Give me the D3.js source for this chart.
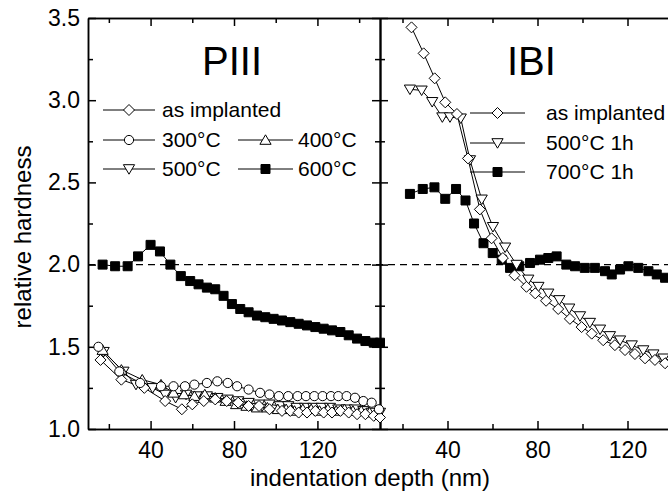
<!DOCTYPE html>
<html>
<head>
<meta charset="utf-8">
<script src="https://d3js.org/d3.v7.min.js"></script>
<style>
  body { margin: 0; background: white; }
  svg { font-family: "Liberation Sans", Arial, sans-serif; }
</style>
</head>
<body>
<script>
// ---- data ----
// PIII panel
const piiiAsImpX = [16, 26, 37, 47, 55, 60, 65.5, 71, 76.5, 82, 87, 92, 97, 103, 107, 111, 115, 119, 123, 127, 131, 135, 139, 143, 147, 150]
const piiiAsImpY = [1.42, 1.30, 1.25, 1.17, 1.12, 1.15, 1.17, 1.18, 1.17, 1.16, 1.14, 1.14, 1.12, 1.11, 1.11, 1.10, 1.10, 1.11, 1.10, 1.10, 1.11, 1.10, 1.09, 1.09, 1.08, 1.07]
const piii300X = [15, 25, 35, 45, 51, 56.5, 61, 67, 72, 77, 81.5, 87, 92.5, 97, 101.5, 106, 110.5, 114.5, 118.5, 122.5, 126.5, 130, 134, 138, 142, 146, 149.5]
const piii300Y = [1.50, 1.35, 1.28, 1.26, 1.26, 1.26, 1.27, 1.28, 1.29, 1.28, 1.26, 1.24, 1.22, 1.21, 1.20, 1.20, 1.20, 1.20, 1.20, 1.20, 1.20, 1.20, 1.20, 1.19, 1.17, 1.16, 1.12]
const piii400X = [17, 26, 36, 45, 51, 56, 61, 66, 71, 76, 81, 86, 91, 96, 101, 105, 109, 113, 117, 121, 125, 129, 133, 137, 141, 145, 149]
const piii400Y = [1.48, 1.36, 1.30, 1.27, 1.22, 1.21, 1.20, 1.21, 1.19, 1.17, 1.15, 1.14, 1.13, 1.13, 1.12, 1.12, 1.11, 1.12, 1.12, 1.11, 1.12, 1.11, 1.12, 1.11, 1.11, 1.10, 1.09]
const piii500X = [17.5, 27, 33, 41, 47, 52, 57, 62, 67, 72, 77, 82, 87, 92, 97, 102, 106, 110, 114, 118, 122, 126, 130, 134, 138, 142, 146, 150]
const piii500Y = [1.47, 1.35, 1.27, 1.25, 1.21, 1.19, 1.21, 1.20, 1.20, 1.19, 1.18, 1.17, 1.16, 1.15, 1.15, 1.14, 1.14, 1.13, 1.13, 1.13, 1.13, 1.13, 1.12, 1.12, 1.12, 1.11, 1.10, 1.10]
const piii600X = [17, 23, 29, 34, 40, 44.5, 49.5, 54.5, 59, 63, 67, 71, 75, 79, 83, 87, 91, 95, 99, 103, 107, 111, 115, 119, 123, 127, 131, 135, 139, 143, 147, 150]
const piii600Y = [2.00, 1.99, 1.99, 2.05, 2.12, 2.08, 2.00, 1.93, 1.90, 1.88, 1.86, 1.85, 1.81, 1.76, 1.73, 1.71, 1.69, 1.68, 1.67, 1.66, 1.65, 1.64, 1.63, 1.62, 1.61, 1.60, 1.59, 1.57, 1.55, 1.535, 1.525, 1.525]

// IBI panel
const ibiAsImpX = [24, 29.4, 34.3, 39, 44.2, 49.1, 54.4, 59.6, 64.6, 69.8, 75.1, 79, 83.8, 89.2, 94.4, 99.6, 104.1, 109.2, 114.4, 118.9, 123.3, 127.8, 132.2, 136.7, 141, 145.5, 150]
const ibiAsImpY = [3.443, 3.285, 3.133, 2.987, 2.916, 2.646, 2.336, 2.16, 2.04, 1.935, 1.865, 1.825, 1.78, 1.73, 1.67, 1.62, 1.58, 1.54, 1.51, 1.48, 1.456, 1.43, 1.42, 1.40, 1.38, 1.37, 1.36]
const ibi500X = [23.3, 28.5, 33.2, 37.7, 41.1, 45.9, 50, 55.2, 60.2, 65.6, 70.7, 75.9, 80.4, 84.8, 89.7, 94.1, 98.9, 103.3, 107.8, 112.2, 116.7, 121.9, 127, 131.5, 136, 140.5, 145]
const ibi500Y = [3.066, 3.06, 2.99, 2.897, 2.897, 2.89, 2.636, 2.397, 2.23, 2.105, 2.00, 1.91, 1.866, 1.825, 1.785, 1.734, 1.687, 1.647, 1.606, 1.566, 1.54, 1.51, 1.48, 1.455, 1.43, 1.41, 1.40]
const ibi700X = [23.3, 29, 34.2, 39, 43.8, 48, 51.8, 56, 60.1, 64.1, 67.8, 71.9, 76.7, 81.1, 84.8, 88.5, 92.8, 96.7, 101, 105.5, 110, 113, 116.7, 120.4, 124.8, 129.3, 133, 136.7, 141, 145]
const ibi700Y = [2.43, 2.46, 2.47, 2.40, 2.46, 2.39, 2.25, 2.13, 2.07, 2.03, 1.98, 1.99, 2.01, 2.03, 2.04, 2.05, 2.00, 1.99, 1.98, 1.98, 1.96, 1.94, 1.97, 1.99, 1.98, 1.96, 1.94, 1.92, 1.91, 1.90]

const xMajor = [40, 80, 120]
const xMinor = [20, 60, 100, 140]
const yMajor = [1.0, 1.5, 2.0, 2.5, 3.0, 3.5]
const yMinor = [1.25, 1.75, 2.25, 2.75, 3.25]
const piiiLabels = ['as implanted', '300°C', '400°C', '500°C', '600°C']
const ibiLabels = ['as implanted', '500°C 1h', '700°C 1h']

// ---- layout ----
const width = 668, height = 498
const plotTop = 18, plotBottom = 429, plotLeft = 88, plotMid = 380, plotRight = 695

const svg = d3.select('body').append('svg')
    .attr('width', width).attr('height', height)

const y = d3.scaleLinear().domain([1, 3.5]).range([plotBottom, plotTop])
const xL = d3.scaleLinear().domain([10, 150]).range([plotLeft, plotMid])
const xR = d3.scaleLinear().domain([10, 150]).range([plotMid, plotRight])

const shapes = {
    diamond: 'M0,-5.5L5.5,0L0,5.5L-5.5,0Z',
    square: 'M-4.5,-4.5h9v9h-9Z',
    circle: 'M4.6,0A4.6,4.6 0 1,1 -4.6,0A4.6,4.6 0 1,1 4.6,0Z',
    up: 'M0,-5.2L5.6,4.3L-5.6,4.3Z',
    down: 'M0,5.2L5.6,-4.3L-5.6,-4.3Z'
}

const marker = (g, shape, cx, cy) => {
    g.append('path')
        .attr('transform', `translate(${cx},${cy})`)
        .attr('d', shapes[shape])
        .attr('fill', shape === 'square' ? 'black' : 'white')
        .attr('stroke', 'black')
        .attr('stroke-width', 1)
}

// ---- axes ----
const axisStyle = g => {
    g.select('.domain').attr('stroke-width', 1.5)
    g.selectAll('.tick line').attr('stroke-width', 1.5)
    g.selectAll('.tick text').attr('font-size', 23).attr('fill', 'black')
        .attr('font-family', '"Liberation Sans", Arial, sans-serif')
}

const addAxis = (axis, tx, ty, labels) => {
    const g = svg.append('g').attr('transform', `translate(${tx},${ty})`).call(axis)
    if (!labels) g.selectAll('.tick text').remove()
    axisStyle(g)
    return g
}

const yTickFmt = d3.format('.1f')
// left axis
addAxis(d3.axisLeft(y).tickValues(yMajor).tickSize(-8).tickSizeOuter(0).tickPadding(8).tickFormat(yTickFmt), plotLeft, 0, true)
addAxis(d3.axisLeft(y).tickValues(yMinor).tickSize(-5).tickSizeOuter(0), plotLeft, 0, false)
// divider: ticks on both sides
addAxis(d3.axisRight(y).tickValues(yMajor).tickSize(-8).tickSizeOuter(0), plotMid, 0, false)
addAxis(d3.axisRight(y).tickValues(yMinor).tickSize(-5).tickSizeOuter(0), plotMid, 0, false)
addAxis(d3.axisLeft(y).tickValues(yMajor).tickSize(-8).tickSizeOuter(0), plotMid, 0, false)
addAxis(d3.axisLeft(y).tickValues(yMinor).tickSize(-5).tickSizeOuter(0), plotMid, 0, false)

for (const x of [xL, xR]) {
    addAxis(d3.axisBottom(x).tickValues(xMajor).tickSize(-8).tickSizeOuter(0).tickPadding(13), 0, plotBottom, true)
    addAxis(d3.axisBottom(x).tickValues(xMinor).tickSize(-5).tickSizeOuter(0), 0, plotBottom, false)
    addAxis(d3.axisTop(x).tickValues(xMajor).tickSize(-8).tickSizeOuter(0), 0, plotTop, false)
    addAxis(d3.axisTop(x).tickValues(xMinor).tickSize(-5).tickSizeOuter(0), 0, plotTop, false)
}

// dashed reference line at 2.0
svg.append('line')
    .attr('x1', plotLeft).attr('x2', plotRight)
    .attr('y1', y(2)).attr('y2', y(2))
    .attr('stroke', 'black').attr('stroke-width', 1.2)
    .attr('stroke-dasharray', '7,5')

// ---- series ----
const series = [
    { x: xL, xs: piii600X, ys: piii600Y, shape: 'square' },
    { x: xL, xs: piii500X, ys: piii500Y, shape: 'down' },
    { x: xL, xs: piii400X, ys: piii400Y, shape: 'up' },
    { x: xL, xs: piiiAsImpX, ys: piiiAsImpY, shape: 'diamond' },
    { x: xL, xs: piii300X, ys: piii300Y, shape: 'circle' },
    { x: xR, xs: ibi700X, ys: ibi700Y, shape: 'square' },
    { x: xR, xs: ibi500X, ys: ibi500Y, shape: 'down' },
    { x: xR, xs: ibiAsImpX, ys: ibiAsImpY, shape: 'diamond' }
]

const lineGen = d3.line()
series.forEach(s => {
    const pts = s.xs.map((d, i) => [s.x(d), y(s.ys[i])])
    svg.append('path')
        .attr('d', lineGen(pts))
        .attr('fill', 'none')
        .attr('stroke', 'black')
        .attr('stroke-width', 1)
})
series.forEach(s => {
    const g = svg.append('g')
    s.xs.forEach((d, i) => marker(g, s.shape, s.x(d), y(s.ys[i])))
})

// ---- legends ----
const legendRow = (x1, x2, ty, shape, label, tx) => {
    svg.append('line').attr('x1', x1).attr('x2', x2).attr('y1', ty).attr('y2', ty)
        .attr('stroke', 'black').attr('stroke-width', 1)
    marker(svg, shape, (x1 + x2) / 2, ty)
    svg.append('text').attr('x', tx).attr('y', ty).attr('dy', '0.35em')
        .attr('font-size', 21).text(label)
}

legendRow(103, 155, 110, 'diamond', piiiLabels[0], 162)
legendRow(103, 155, 140, 'circle', piiiLabels[1], 162)
legendRow(238, 293, 140, 'up', piiiLabels[2], 298)
legendRow(103, 155, 169, 'down', piiiLabels[3], 162)
legendRow(238, 293, 169, 'square', piiiLabels[4], 298)

legendRow(470, 525, 113, 'diamond', ibiLabels[0], 546)
legendRow(470, 525, 143, 'down', ibiLabels[1], 546)
legendRow(470, 525, 172, 'square', ibiLabels[2], 546)

// panel titles
svg.append('text').attr('x', 202).attr('y', 75).attr('font-size', 40).text('PIII')
svg.append('text').attr('x', 507).attr('y', 75).attr('font-size', 40).text('IBI')

// axis titles
svg.append('text')
    .attr('transform', `translate(31,237) rotate(-90)`)
    .attr('text-anchor', 'middle').attr('font-size', 24)
    .text('relative hardness')
svg.append('text')
    .attr('x', 370).attr('y', 486)
    .attr('text-anchor', 'middle').attr('font-size', 24)
    .text('indentation depth (nm)')
</script>
</body>
</html>
